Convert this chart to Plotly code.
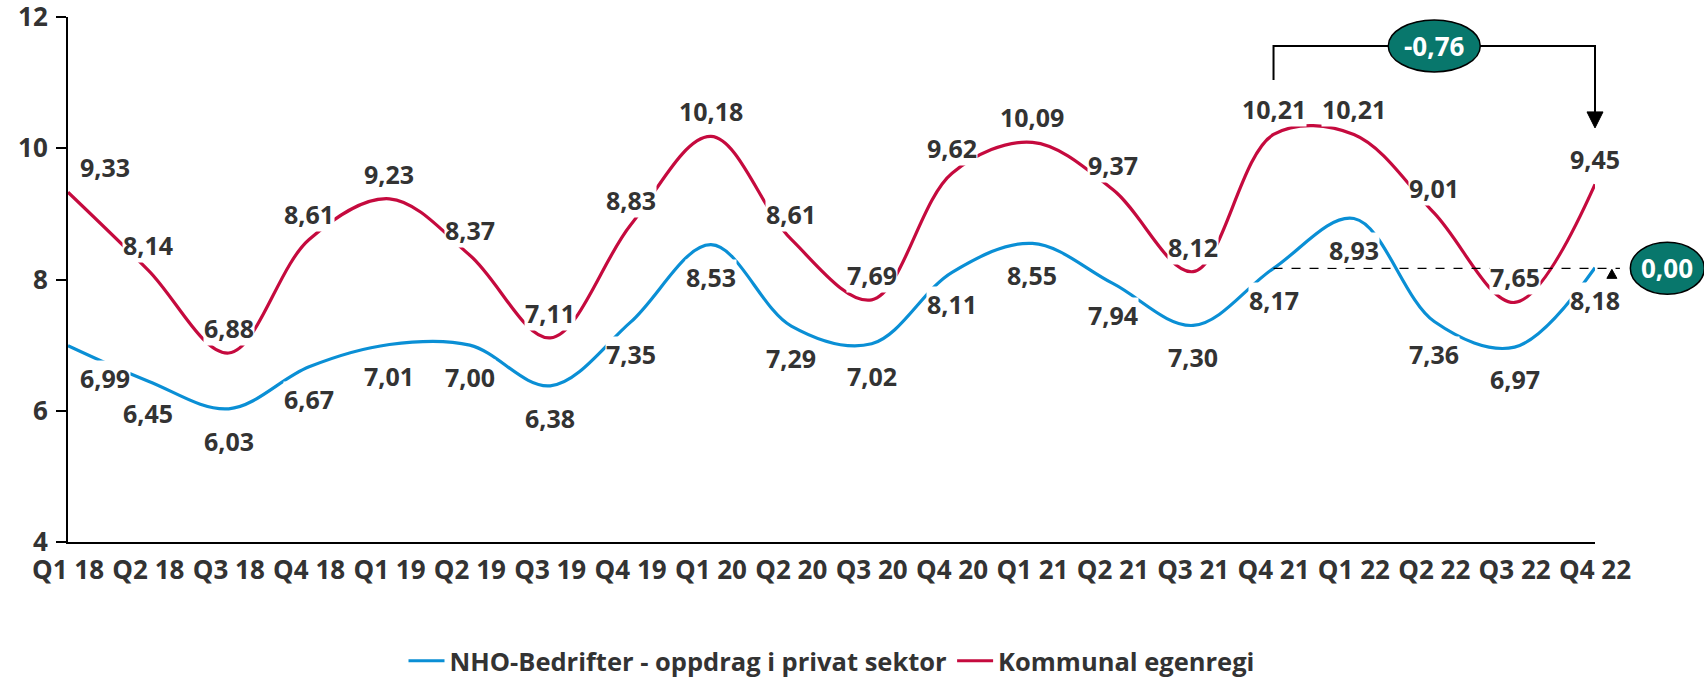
import plotly.graph_objects as go

# ---------------- data ----------------
categories = ["Q1 18", "Q2 18", "Q3 18", "Q4 18",
              "Q1 19", "Q2 19", "Q3 19", "Q4 19",
              "Q1 20", "Q2 20", "Q3 20", "Q4 20",
              "Q1 21", "Q2 21", "Q3 21", "Q4 21",
              "Q1 22", "Q2 22", "Q3 22", "Q4 22"]
nho_values = [6.99, 6.45, 6.03, 6.67, 7.01, 7.00, 6.38, 7.35, 8.53, 7.29,
              7.02, 8.11, 8.55, 7.94, 7.30, 8.17, 8.93, 7.36, 6.97, 8.18]
kommunal_values = [9.33, 8.14, 6.88, 8.61, 9.23, 8.37, 7.11, 8.83, 10.18, 8.61,
                   7.69, 9.62, 10.09, 9.37, 8.12, 10.21, 10.21, 9.01, 7.65, 9.45]
series_names = ["NHO-Bedrifter - oppdrag i privat sektor", "Kommunal egenregi"]
y_ticks = [4, 6, 8, 10, 12]
change_label = "-0,76"   # Kommunal Q4 22 vs Q4 21
gap_label = "0,00"       # NHO Q4 22 vs Q4 21

# ---------------- styles ----------------
BLUE = "#0A8FD5"
RED = "#C50A3E"
TEXT = "#333333"
TEAL = "#08776C"
FONT = "Open Sans"
Y_MIN, Y_MAX = y_ticks[0], y_ticks[-1]
N = len(categories)


def fmt(v):
    return f"{v:.2f}".replace(".", ",")


def px(i):
    return i / (N - 1)


def py(v):
    return (v - Y_MIN) / (Y_MAX - Y_MIN)


fig = go.Figure()
fig.add_trace(go.Scatter(x=categories, y=nho_values, name=series_names[0], mode="lines",
                         line=dict(color=BLUE, width=3.2, shape="spline", smoothing=1)))
fig.add_trace(go.Scatter(x=categories, y=kommunal_values, name=series_names[1], mode="lines",
                         line=dict(color=RED, width=3.2, shape="spline", smoothing=1)))

label_font = dict(family=FONT, size=25, color=TEXT, weight="bold")
annotations = []
for i, (c, v) in enumerate(zip(categories, kommunal_values)):
    annotations.append(dict(x=c, y=v, text=fmt(v), showarrow=False, yshift=25,
                            xanchor="center", yanchor="middle",
                            xshift=37 if i == 0 else 0, bgcolor="white", borderpad=0,
                            font=label_font))
for i, (c, v) in enumerate(zip(categories, nho_values)):
    annotations.append(dict(x=c, y=v, text=fmt(v), showarrow=False, yshift=-32,
                            xanchor="center", yanchor="middle",
                            xshift=37 if i == 0 else 0, bgcolor="white", borderpad=0,
                            font=label_font))

# ---------------- comparison markers ----------------
i_prev = N - 5          # Q4 21
i_last = N - 1          # Q4 22
bracket_top = 11.56
bracket_left_bottom = 11.04
arrow_tip = 10.31
gap_y = nho_values[i_prev]

shapes = [
    # bracket
    dict(type="path", xref="paper", yref="paper",
         path=f"M {px(i_prev)},{py(bracket_left_bottom)} L {px(i_prev)},{py(bracket_top)} "
              f"L {px(i_last)},{py(bracket_top)} L {px(i_last)},{py(arrow_tip + 0.2)}",
         line=dict(color="black", width=2)),
    dict(type="path", xref="paper", yref="paper", xsizemode="pixel", ysizemode="pixel",
         xanchor=px(i_last), yanchor=py(arrow_tip),
         path="M -8,16 L 8,16 L 0,0 Z", fillcolor="black", line=dict(color="black", width=1)),
    dict(type="circle", xref="paper", yref="paper", xsizemode="pixel", ysizemode="pixel",
         xanchor=px(i_last - 2), yanchor=py(bracket_top), x0=-46, x1=46, y0=-26, y1=26,
         fillcolor=TEAL, line=dict(color="black", width=1.5)),
    # dashed reference line for NHO
    dict(type="line", xref="paper", yref="paper", x0=px(i_prev), x1=px(i_last + 0.31),
         y0=py(gap_y), y1=py(gap_y), line=dict(color="black", width=1.2, dash="dash")),
    dict(type="path", xref="paper", yref="paper", xsizemode="pixel", ysizemode="pixel",
         xanchor=px(i_last + 0.21), yanchor=py(gap_y),
         path="M -5,-10 L 5,-10 L 0,-1 Z", fillcolor="black", line=dict(color="black", width=1)),
    dict(type="circle", xref="paper", yref="paper", xsizemode="pixel", ysizemode="pixel",
         xanchor=px(i_last + 0.9), yanchor=py(gap_y), x0=-37, x1=37, y0=-26, y1=26,
         fillcolor=TEAL, line=dict(color="black", width=1.5)),
]
annotations.append(dict(xref="paper", yref="paper", x=px(i_last - 2), y=py(bracket_top),
                        xanchor="center", yanchor="middle",
                        text=change_label, showarrow=False,
                        font=dict(family=FONT, size=26, color="white", weight="bold")))
annotations.append(dict(xref="paper", yref="paper", x=px(i_last + 0.9), y=py(gap_y),
                        xanchor="center", yanchor="middle",
                        text=gap_label, showarrow=False,
                        font=dict(family=FONT, size=26, color="white", weight="bold")))

fig.update_layout(
    width=1704, height=677,
    margin=dict(l=68, r=109, t=17, b=135, autoexpand=False),
    paper_bgcolor="white", plot_bgcolor="white",
    font=dict(family=FONT, color=TEXT, size=25, weight="bold"),
    showlegend=True,
    legend=dict(orientation="h", x=0.5, xanchor="center", y=-0.227, yanchor="middle",
                font=dict(family=FONT, size=25.5, color=TEXT, weight="bold"),
                itemwidth=36),
    xaxis=dict(type="category", range=[0, N - 1], showline=True, linecolor="black",
               linewidth=2, ticks="", showgrid=False, zeroline=False, automargin=False,
               ticklabelstandoff=4,
               tickfont=dict(family=FONT, size=26, color=TEXT, weight="bold")),
    yaxis=dict(range=[Y_MIN, Y_MAX], tickvals=y_ticks, showline=True, linecolor="black",
               linewidth=2, ticks="outside", ticklen=10, tickwidth=2, tickcolor="black",
               showgrid=False, zeroline=False, ticklabeloverflow="allow", automargin=False,
               ticklabelstandoff=3,
               tickfont=dict(family=FONT, size=26, color=TEXT, weight="bold")),
    shapes=shapes,
    annotations=annotations,
)

fig.write_html("out.html", config={"displayModeBar": False},
               post_script="document.body.style.margin='0';document.body.style.overflow='hidden';")
